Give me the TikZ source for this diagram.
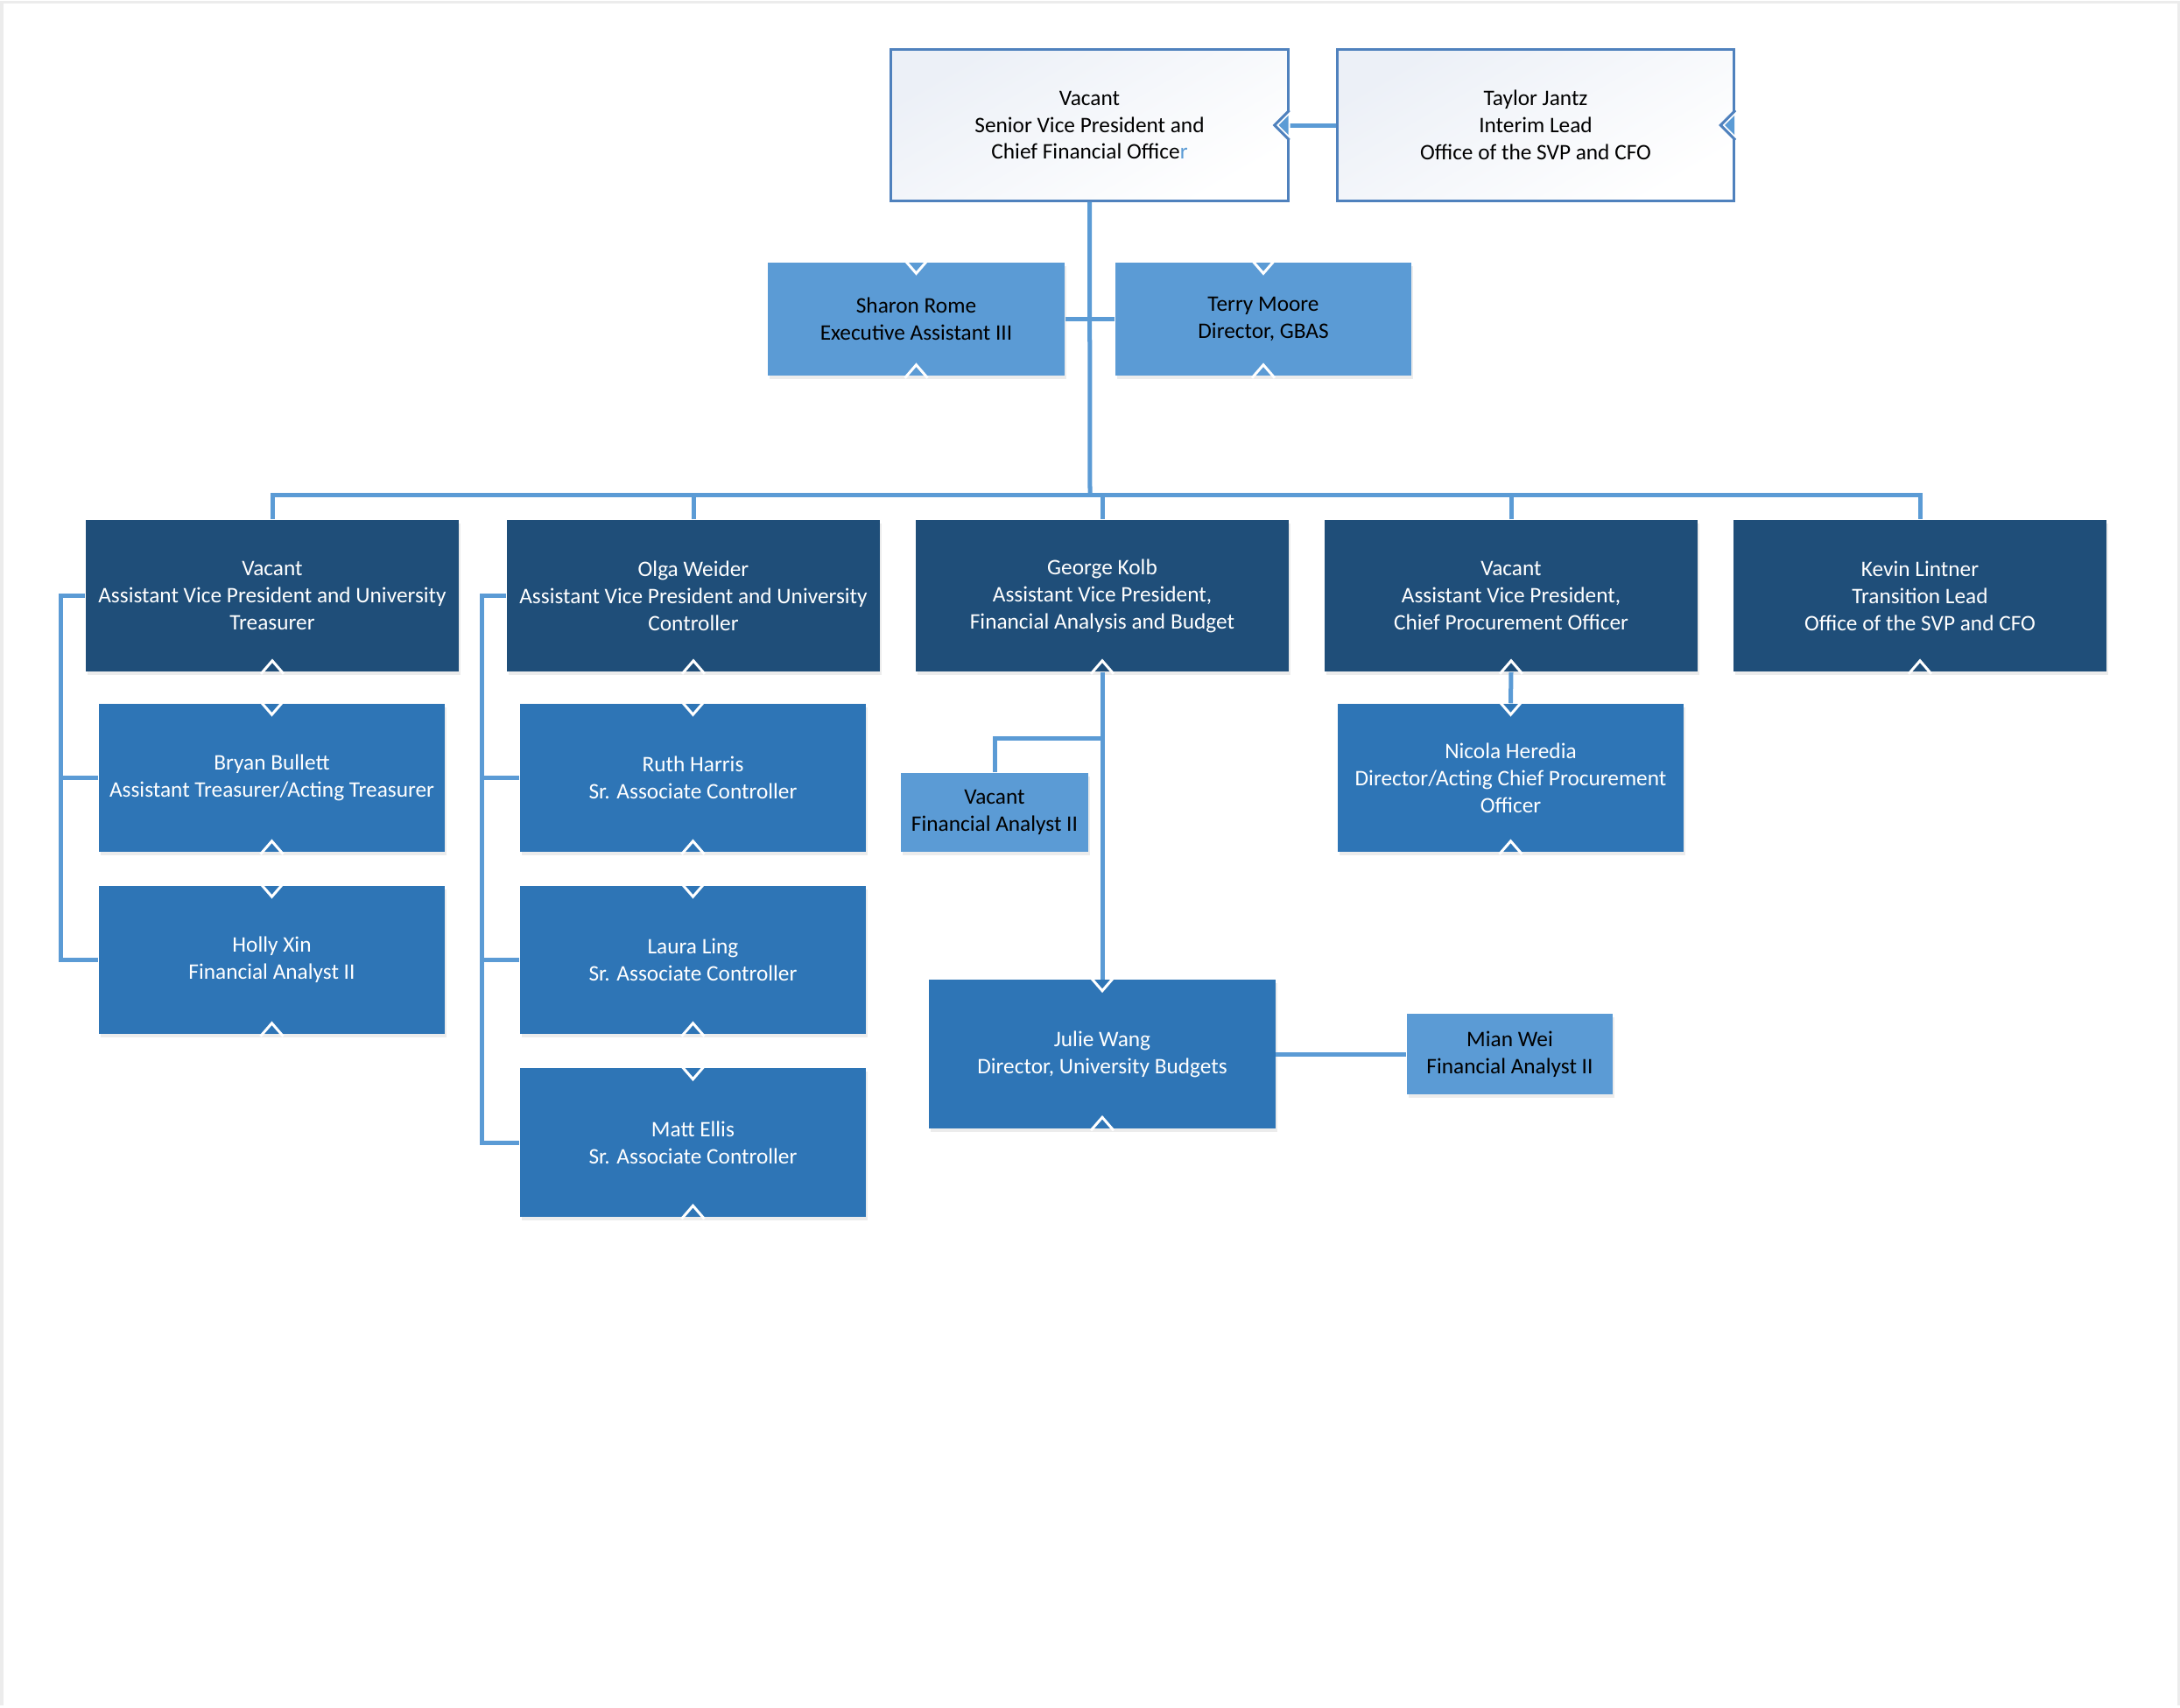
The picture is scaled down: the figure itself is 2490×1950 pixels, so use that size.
\documentclass[tikz,border=0pt]{standalone}
\usepackage{fontspec}
\setmainfont{Carlito}
\usetikzlibrary{shadows}
\definecolor{linec}{RGB}{91,155,213}
\definecolor{darkb}{RGB}{31,78,121}
\definecolor{midb}{RGB}{46,117,182}
\definecolor{lightb}{RGB}{91,155,213}
\definecolor{headb}{RGB}{79,129,189}
\definecolor{headf}{RGB}{236,240,247}
\tikzset{
  box/.style={rectangle, align=center, inner sep=0pt, font=\fontsize{7.2}{8.8}\selectfont,
    drop shadow={shadow xshift=0.02cm, shadow yshift=-0.04cm, opacity=0.15}},
  dark/.style={box, fill=darkb, text=white, minimum width=4.26cm, minimum height=1.73cm},
  mid/.style={box, fill=midb, text=white, minimum width=3.95cm, minimum height=1.69cm},
  light/.style={box, fill=lightb, text=black},
  head/.style={rectangle, align=center, font=\fontsize{7.2}{8.8}\selectfont, draw=headb,
    line width=0.03cm, top color=headf, bottom color=white, shading angle=30,
    minimum width=4.53cm, minimum height=1.72cm},
  link/.style={draw=linec, line width=0.05cm},
  tick/.style={draw=white, line width=0.03cm},
}
\begin{document}
\begin{tikzpicture}[x=0.01cm,y=-0.01cm]
\useasboundingbox (0,0) rectangle (2490,1950);
\draw[gray!15, line width=0.03cm] (2,1948) -- (2,2) -- (2488,2) -- (2488,1948);

\node[head] (cfo) at (1244.5,143) {Vacant\\Senior Vice President and\\Chief Financial Office\textcolor{linec}{r}};
\node[head] (jantz) at (1754,143) {Taylor Jantz\\Interim Lead\\Office of the SVP and CFO};

\node[light, minimum width=3.39cm, minimum height=1.29cm] (rome) at (1046.5,364.5) {Sharon Rome\\Executive Assistant III};
\node[light, minimum width=3.38cm, minimum height=1.29cm] (moore) at (1443,364.5) {Terry Moore\\Director, GBAS};

\node[dark] (treas) at (311,680.5) {Vacant\\Assistant Vice President and University\\Treasurer};
\node[dark] (ctrl) at (792,680.5) {Olga Weider\\Assistant Vice President and University\\Controller};
\node[dark] (kolb) at (1259,680.5) {George Kolb\\Assistant Vice President,\\Financial Analysis and Budget};
\node[dark] (procure) at (1726,680.5) {Vacant\\Assistant Vice President,\\Chief Procurement Officer};
\node[dark] (lintner) at (2193,680.5) {Kevin Lintner\\Transition Lead\\Office of the SVP and CFO};

\node[mid] (bullett) at (310.5,888.5) {Bryan Bullett\\Assistant Treasurer/Acting Treasurer};
\node[mid] (xin) at (310.5,1096.5) {Holly Xin\\Financial Analyst II};
\node[mid] (harris) at (791.5,888.5) {Ruth Harris\\Sr. Associate Controller};
\node[mid] (ling) at (791.5,1096.5) {Laura Ling\\Sr. Associate Controller};
\node[mid] (ellis) at (791.5,1305) {Matt Ellis\\Sr. Associate Controller};

\node[light, minimum width=2.14cm, minimum height=0.90cm] (fa) at (1136,928) {Vacant\\Financial Analyst II};
\node[mid] (wang) at (1259,1204) {Julie Wang\\Director, University Budgets};
\node[light, minimum width=2.35cm, minimum height=0.92cm] (wei) at (1724.5,1204) {Mian Wei\\Financial Analyst II};
\node[mid] (heredia) at (1725.5,888.5) {Nicola Heredia\\Director/Acting Chief Procurement\\Officer};

\coordinate (bus) at (1245,565);
\draw[link] (cfo.south) -- (bus);
\draw[link] (rome.east) -- (moore.west);
\draw[link] (jantz.west) -- (cfo.east);
\draw[link] (treas.north) |- (bus) -| (lintner.north);
\foreach \n in {ctrl,kolb,procure}
  \draw[link] (\n.north) -- (\n.north |- bus);

\draw[link] (treas.west) -- ++(-28,0) |- (xin.west);
\draw[link] (bullett.west) -- ++(-43,0);
\draw[link] (ctrl.west) -- ++(-28,0) |- (ellis.west);
\foreach \n in {harris,ling}
  \draw[link] (\n.west) -- ++(-43,0);

\draw[link] (kolb.south) -- (wang.north);
\draw[link] (fa.north) |- (kolb.south |- 0,843);
\draw[link] (wang.east) -- (wei.west);
\draw[link] (procure.south) -- (heredia.north);

\foreach \n in {rome,moore,bullett,xin,harris,ling,ellis,wang,heredia}
  \draw[tick] (\n.north) ++(-13,-2) -- ++(13,15) -- ++(13,-15);
\foreach \n in {rome,moore,treas,ctrl,kolb,procure,lintner,bullett,xin,harris,ling,ellis,wang,heredia}
  \draw[tick] (\n.south) ++(-13,2) -- ++(13,-15) -- ++(13,15);

\foreach \n in {cfo,jantz}{
  \fill[white] (\n.east) ++(1,-17) -- ++(-17,17) -- ++(17,17) -- cycle;
  \draw[draw=headb, line width=0.03cm] (\n.east) ++(0,-17) -- ++(-17,17) -- ++(17,17);
  \fill[linec] (\n.east) ++(-1,-11) -- ++(-11,11) -- ++(11,11) -- cycle;
}
\end{tikzpicture}
\end{document}
